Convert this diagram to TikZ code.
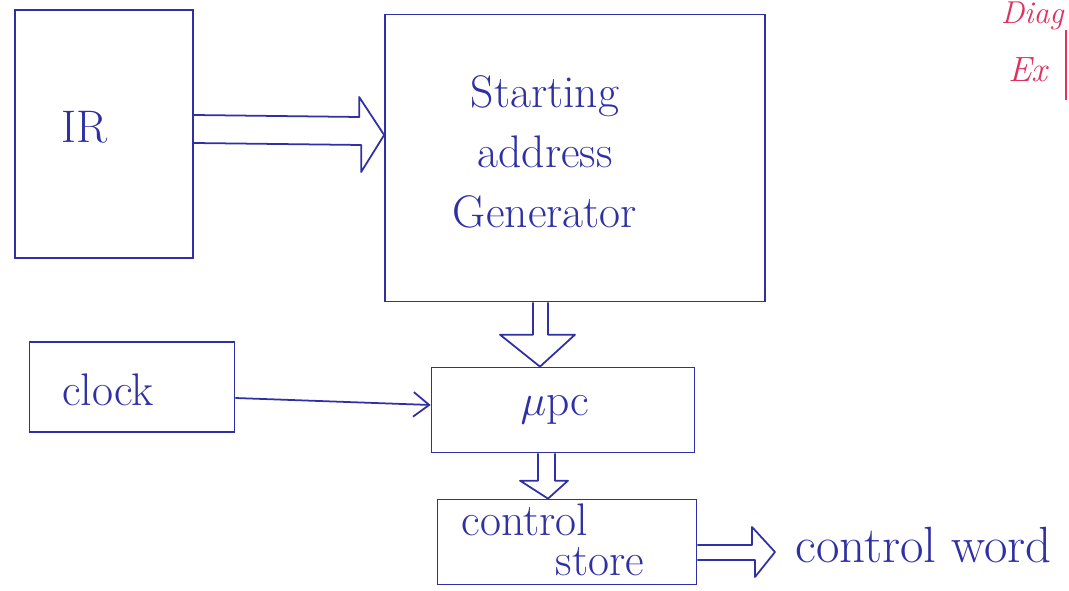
\documentclass[tikz,border=0pt]{standalone}
\usetikzlibrary{calc,arrows.meta}
\definecolor{ink}{RGB}{48,48,165}
\definecolor{pinkink}{RGB}{225,50,95}
\begin{document}
\begin{tikzpicture}[x=0.02cm,y=-0.02cm,
  box/.style={draw=ink,line width=1pt,rectangle,inner sep=0pt},
  txt/.style={text=ink,font=\fontsize{26}{32}\selectfont,inner sep=0pt},
  fat/.style={draw=ink,line width=1pt,line join=round},
  thin/.style={draw=ink,line width=1pt,-{Straight Barb[length=9pt,width=14pt]}}]
\useasboundingbox[fill=white] (0,0) rectangle (1069,591);
% boxes
\node[box,minimum width=3.56cm,minimum height=4.96cm] (ir) at (104,134) {};
\node[box,minimum width=7.6cm,minimum height=5.74cm] (sag) at (575,158) {};
\node[box,minimum width=4.1cm,minimum height=1.8cm] (clk) at (132,387) {};
\node[box,minimum width=5.26cm,minimum height=1.7cm] (upc) at (563,410) {};
\node[box,minimum width=5.18cm,minimum height=1.7cm] (cs) at (567,542) {};
% labels
\node[txt] (irt) at (85,127) {IR};
\node[txt,align=center] (sagt) at (545,152) {Starting\\[2pt]address\\[2pt]Generator};
\node[txt] (clkt) at (108,390) {clock};
\node[txt] (upct) at (555,410) {$\mu$pc};
\node[txt] (cst1) at (525,520) {control};
\node[txt] (cst2) at (600,562) {store};
\node[txt,anchor=west,font=\fontsize{29}{34}\selectfont] (cw) at (795,545) {control word};
% IR -> SAG
\coordinate (a1) at ($(sag.west)+(0,-23)$);
\draw[fat] ($(ir.east)+(0,-19)$) -- ($(a1)+(-25,-18)$) -- ($(a1)+(-25,-38)$) -- (a1)
  -- ($(a1)+(-23,37)$) -- ($(a1)+(-23,10)$) -- ($(ir.east)+(0,9)$);
% SAG -> upc
\coordinate (a2) at ($(upc.north)+(-23,0)$);
\draw[fat] ($(sag.south)+(-42,0)$) -- ($(a2)+(-7,-32)$) -- ($(a2)+(-40,-32)$) -- (a2)
  -- ($(a2)+(35,-32)$) -- ($(a2)+(8,-32)$) -- ($(sag.south)+(-27,0)$);
% upc -> cs
\coordinate (a3) at ($(cs.north)+(-19,0)$);
\draw[fat] ($(upc.south)+(-25,0)$) -- ($(a3)+(-10,-18)$) -- ($(a3)+(-28,-18)$) -- (a3)
  -- ($(a3)+(20,-18)$) -- ($(a3)+(7,-18)$) -- ($(upc.south)+(-8,0)$);
% cs -> control word
\coordinate (a4) at ($(cw.west)+(-20,7)$);
\draw[fat] ($(cs.east)+(0,3)$) -- ($(a4)+(-23,-7)$) -- ($(a4)+(-23,-25)$) -- (a4)
  -- ($(a4)+(-20,25)$) -- ($(a4)+(-20,8)$) -- ($(cs.east)+(0,18)$);
% clock -> upc
\draw[thin] ($(clk.east)+(0,11)$) -- ($(upc.west)+(0,-5)$);
% pink margin notes
\node[text=pinkink,font=\fontsize{18}{22}\selectfont\itshape,anchor=east,inner sep=0pt] (dg) at (1064,16) {Diag};
\node[text=pinkink,font=\fontsize{20}{24}\selectfont\itshape] (ex) at (1028,70) {Ex};
\draw[pinkink,line width=1pt] (1066,30) -- (1066,100);
\end{tikzpicture}
\end{document}
